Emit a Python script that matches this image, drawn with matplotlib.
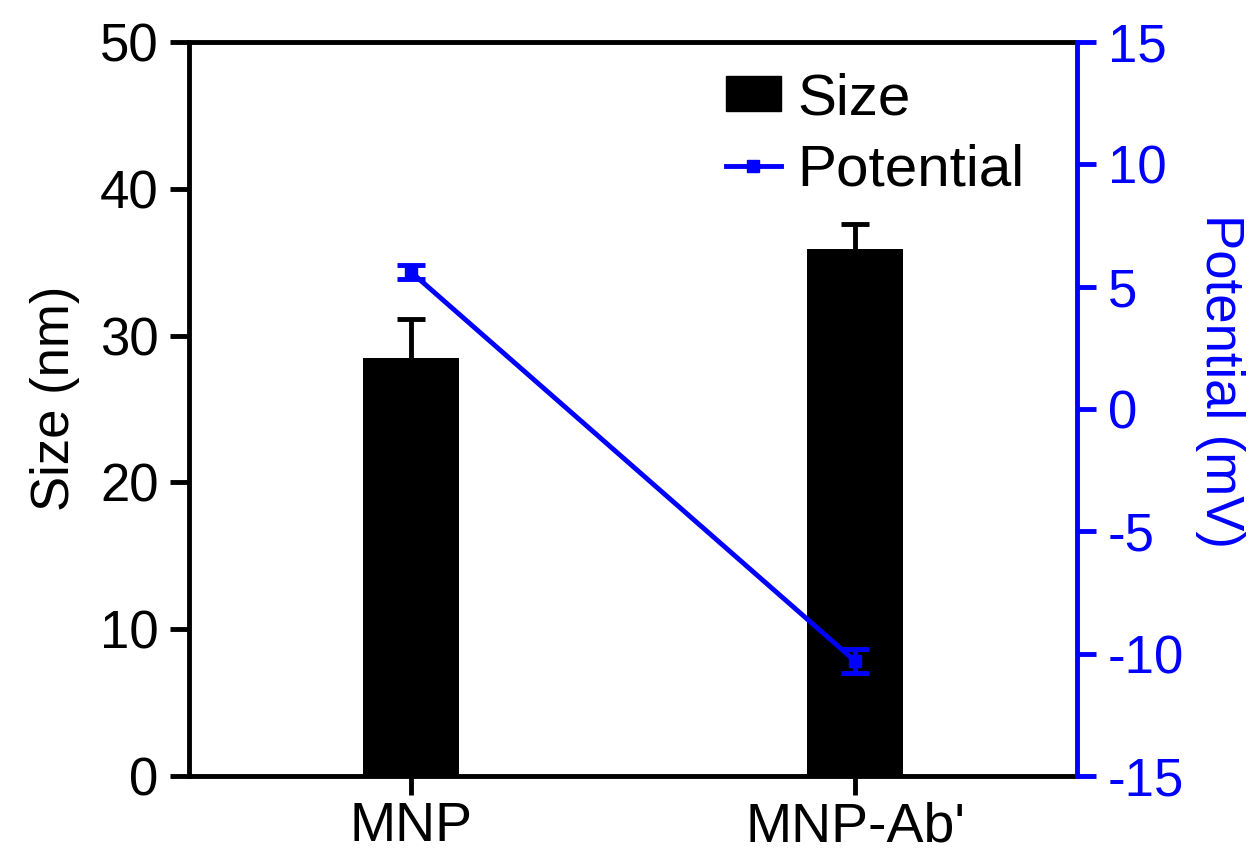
import matplotlib
matplotlib.use("Agg")
import matplotlib.pyplot as plt
from matplotlib.lines import Line2D
from matplotlib.patches import Patch

plt.rcParams['font.family'] = ['Liberation Sans', 'DejaVu Sans']
plt.rcParams['axes.unicode_minus'] = False

categories = ["MNP", "MNP-Ab'"]
size_vals = [28.5, 35.9]
size_err = [2.6, 1.7]
pot_vals = [5.6, -10.3]
pot_err = [0.27, 0.51]

FS = 38
fig = plt.figure(figsize=(12.58, 8.6), dpi=100)
ax = fig.add_axes([189/1258, 1 - 776/860, (1077-189)/1258, (776-42)/860])
x = list(range(len(categories)))

ax.errorbar(x, size_vals, yerr=size_err, fmt='none', ecolor='black',
            elinewidth=3.5, capsize=10, capthick=3.5, zorder=1)
ax.bar(x, size_vals, width=0.214, color='black', zorder=2)
ax.set_xlim(-0.5, 1.5)
ax.set_ylim(0, 50)
ax.set_yticks([0, 10, 20, 30, 40, 50])
ax.set_xticks(x)
ax.set_xticklabels(categories)
ax.set_ylabel("Size (nm)", fontsize=FS, labelpad=14)
ax.yaxis.label.set_y(0.515)
for s in ['left', 'bottom', 'top']:
    ax.spines[s].set_linewidth(3.5)
ax.spines['right'].set_visible(False)
ax.tick_params(axis='both', direction='out', width=3.5, length=14, labelsize=FS, pad=8)
ax.tick_params(axis='x', pad=4, labelsize=40)

ax2 = ax.twinx()
ax2.errorbar(x, pot_vals, yerr=pot_err, color='blue', lw=3.5, marker='s', ms=9,
             ecolor='blue', elinewidth=3.5, capsize=10, capthick=3.5, zorder=4)
ax2.set_ylim(-15, 15)
ax2.set_yticks([-15, -10, -5, 0, 5, 10, 15])
ax2.set_ylabel("Potential (mV)", fontsize=FS, color='blue', rotation=270, labelpad=44)
ax2.yaxis.label.set_y(0.538)
for s in ['left', 'bottom', 'top']:
    ax2.spines[s].set_visible(False)
ax2.spines['right'].set_color('blue')
ax2.spines['right'].set_linewidth(3.5)
ax2.tick_params(axis='y', direction='out', width=3.5, length=14, labelsize=FS,
                colors='blue', pad=8)

handles = [Patch(facecolor='black', edgecolor='black'),
           Line2D([0], [0], color='blue', lw=3.5, marker='s', ms=9)]
ax2.legend(handles, ["Size", "Potential"], loc='upper left',
           bbox_to_anchor=(0.546, 1.03), frameon=False, fontsize=42,
           handlelength=0.93, handleheight=0.55, handletextpad=0.29, labelspacing=0.29)

fig.savefig("out.png", dpi=100)
